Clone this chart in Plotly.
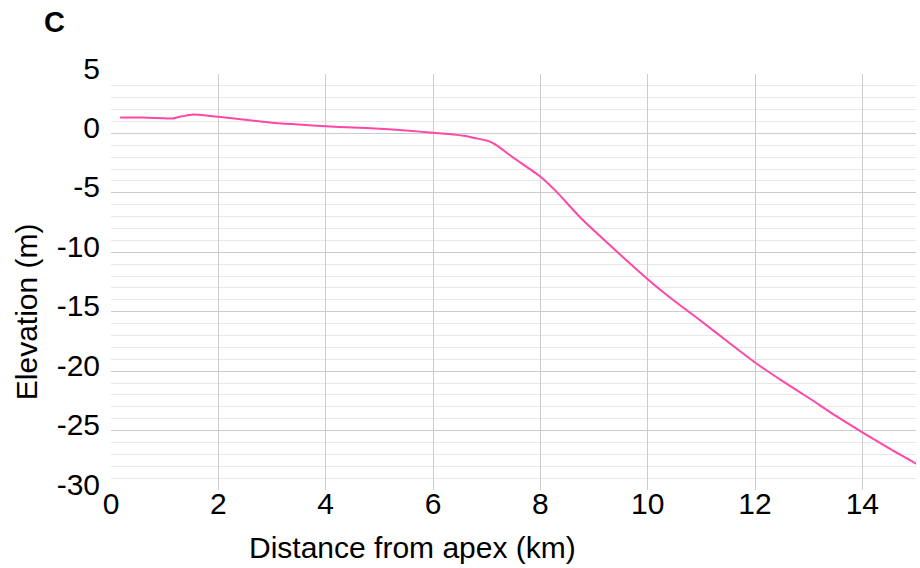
import plotly.graph_objects as go

distance_km = [0.17, 0.6, 1.0, 1.15, 1.3, 1.5, 1.7, 1.85, 2.0, 2.5, 3.0, 3.5, 4.0, 4.5, 5.0, 5.5, 6.0,
               6.4, 6.6, 6.88, 7.0, 7.09, 7.2, 7.5, 8.02, 8.3, 8.74, 9.11, 10.0, 10.5,
               11.0, 11.5, 12.0, 12.5, 13.02, 13.5, 14.0, 14.5, 15.05]
elevation_m = [1.35, 1.33, 1.27, 1.26, 1.42, 1.58, 1.55, 1.47, 1.4, 1.15, 0.9, 0.75, 0.6, 0.5, 0.4, 0.25, 0.05,
               -0.1, -0.22, -0.48, -0.6, -0.76, -1.05, -2.05, -3.7, -4.9, -7.05, -8.63, -12.26, -14.1,
               -15.8, -17.55, -19.27, -20.8, -22.3, -23.75, -25.15, -26.5, -27.9]

x_ticks = [0, 2, 4, 6, 8, 10, 12, 14]
y_ticks = [5, 0, -5, -10, -15, -20, -25, -30]

FONT = "Liberation Sans, Arial, sans-serif"

fig = go.Figure()
fig.add_trace(go.Scatter(x=distance_km, y=elevation_m, mode="lines",
                         line=dict(color="#FF47A6", width=2, shape="spline", smoothing=0.5),
                         showlegend=False, hoverinfo="skip"))

fig.update_layout(
    width=920, height=568,
    margin=dict(l=111, r=4, t=74, b=78),
    paper_bgcolor="white", plot_bgcolor="white",
    font=dict(family=FONT, size=30, color="black"),
    xaxis=dict(range=[0, 15], tickvals=x_ticks, ticktext=[str(v) for v in x_ticks],
               showgrid=True, gridcolor="#cccccc", gridwidth=1, zeroline=False,
               showline=False, ticks="", tickfont=dict(size=30), ticklabelstandoff=-7),
    yaxis=dict(range=[-30, 5], tickvals=y_ticks, ticktext=[str(v) for v in y_ticks],
               showgrid=True, gridcolor="#cccccc", gridwidth=1, zeroline=False,
               showline=False, ticks="", tickfont=dict(size=30),
               ticklabelstandoff=10, ticklabelshift=-6,
               minor=dict(dtick=1, showgrid=True, gridcolor="#e8e8e8", gridwidth=1)),
    annotations=[
        dict(text="Distance from apex (km)", x=0.375, y=-0.139, xref="paper", yref="paper",
             xanchor="center", yanchor="middle", showarrow=False, font=dict(size=30)),
        dict(text="Elevation (m)", x=-0.104, y=0.428, xref="paper", yref="paper", textangle=-90,
             xanchor="center", yanchor="middle", showarrow=False, font=dict(size=30)),
        dict(text="<b>C</b>", x=-0.0696, y=1.125, xref="paper", yref="paper",
             xanchor="center", yanchor="middle", showarrow=False, font=dict(size=29)),
    ],
)

fig.write_html("out.html", config={"displayModeBar": False},
               post_script="document.body.style.margin='0';document.body.style.overflow='hidden';")
